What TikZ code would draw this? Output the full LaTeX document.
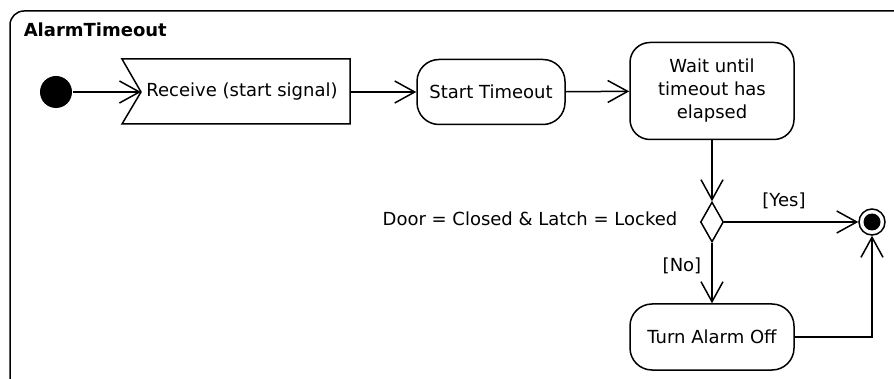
\documentclass[tikz,border=0pt]{standalone}
\usepackage{fontspec}
\setmainfont{DejaVu Sans}
\usetikzlibrary{arrows.meta,shapes.geometric}

\begin{document}
\begin{tikzpicture}[x=1pt,y=-1pt,
  line width=1.5pt,
  every node/.style={font=\fontsize{18}{23}\selectfont},
  flow/.style={-{Straight Barb[length=20pt,width=22pt,line width=1.5pt]}},
  action/.style={draw,rounded corners=22pt,align=center,inner sep=0pt},
  guard/.style={anchor=base,inner sep=0pt}]

\useasboundingbox (0,0) rectangle (894,379);

% activity frame, running past the page edges
\begin{scope}
  \clip (0,0) rectangle (894,379);
  \draw[rounded corners=14pt] (10,11) rectangle (910,400);
\end{scope}
\node[anchor=base west,inner sep=0pt,font=\fontsize{18}{23}\selectfont\bfseries] (title) at (23,37) {AlarmTimeout};

% initial node
\node[circle,fill,minimum size=32pt,inner sep=0pt] (init) at (56,92) {};

% accept-signal action
\draw (122,59) -- (350,59) -- (350,124) -- (122,124) -- (141,92) -- cycle;
\coordinate (recvin) at (141,92);
\coordinate (recvout) at (350,92);
\node[inner sep=0pt] (recv) at (242,92) {Receive (start signal)};

% actions
\node[action,minimum width=148pt,minimum height=65pt] (start) at (491,92) {Start Timeout};
\node[action,rounded corners=20pt,minimum width=164pt,minimum height=97pt] (wait) at (712,91) {Wait until\\timeout has\\elapsed};
\node[action,minimum width=164pt,minimum height=66pt] (turn) at (712,337) {Turn Alarm Off};

% decision
\node[draw,diamond,minimum width=23pt,minimum height=40pt,inner sep=0pt] (dec) at (712,222) {};
\node[anchor=base east,inner sep=0pt] (cond) at (678,226) {Door = Closed \& Latch = Locked};

% final node
\node[circle,draw,minimum size=26pt,inner sep=0pt] (fin) at (872,222) {};
\node[circle,fill,minimum size=17pt,inner sep=0pt] (finc) at (fin) {};

% flows
\draw[flow] (init) -- (recvin);
\draw[flow] (recvout) -- (start);
\draw[flow] (start) -- (wait);
\draw[flow] (wait) -- (dec);
\draw[flow] (dec) -- (fin);
\draw[flow] (dec) -- (turn);
\draw[flow] (turn.east) -| (fin.south);

% guards
\node[guard] (yes) at (784,207) {[Yes]};
\node[guard] (no) at (682,272) {[No]};
\end{tikzpicture}
\end{document}
